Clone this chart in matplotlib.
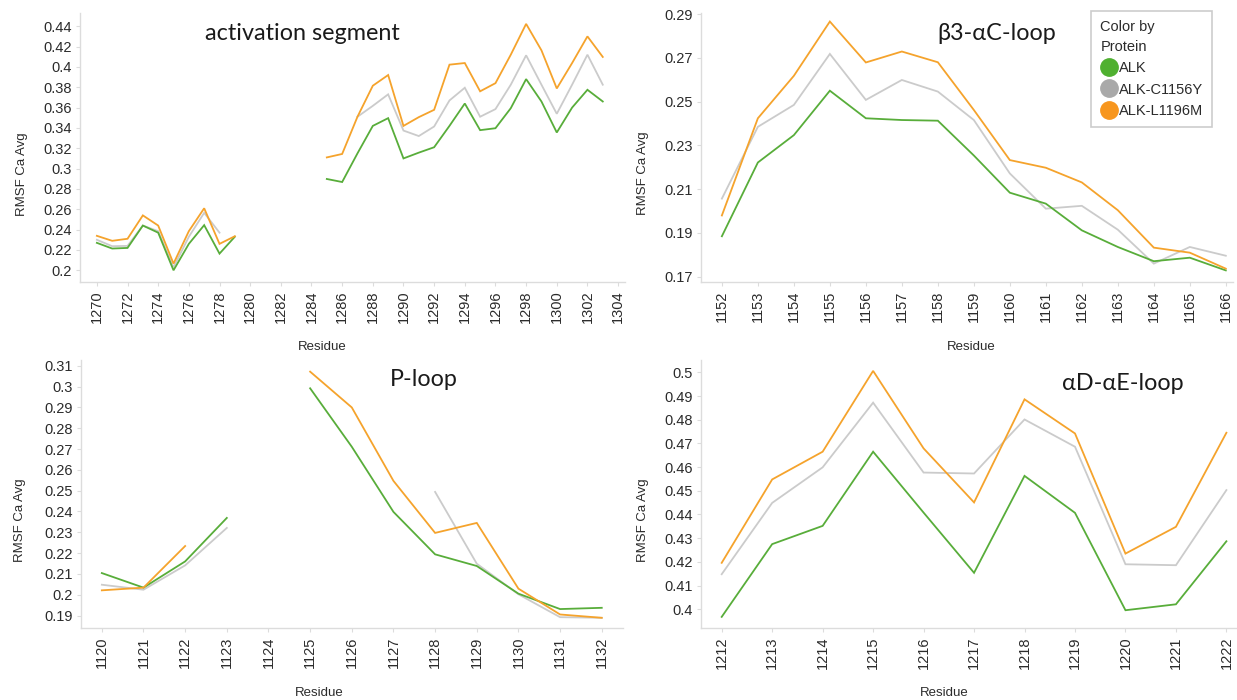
import numpy as np
import matplotlib
matplotlib.use("Agg")
import matplotlib.pyplot as plt
from matplotlib.ticker import FuncFormatter, FixedLocator
from matplotlib.lines import Line2D

plt.rcParams['font.family'] = ['Liberation Sans', 'DejaVu Sans']

W, H = 1237, 700

# ---------------- data ----------------
proteins = ["ALK", "ALK-C1156Y", "ALK-L1196M"]
colors = {"ALK": "#58ad3a", "ALK-C1156Y": "#cbcbcb", "ALK-L1196M": "#f5a32c"}
legend_colors = {"ALK": "#4fb030", "ALK-C1156Y": "#a9a9a9", "ALK-L1196M": "#f7961e"}

N = None
# activation segment (residues 1270..1303)
act_res = list(range(1270, 1304))
act_alk = [0.227, 0.2214, 0.222, 0.244, 0.237, 0.200, 0.226, 0.2444, 0.2164, 0.233,
           N, N, N, N, N,
           0.2898, 0.2868, 0.315, 0.342, 0.3496, 0.310, 0.3157, 0.321, 0.342, 0.364,
           0.3378, 0.3397, 0.3594, 0.388, 0.366, 0.3355, 0.360, 0.3775, 0.366]
act_c1156y = [0.230, 0.2237, 0.224, 0.244, 0.2385, 0.203, 0.233, 0.2565, 0.237, N,
              N, N, N, N, N,
              N, N, 0.351, 0.3617, 0.373, 0.3374, 0.332, 0.3414, 0.367, 0.3795,
              0.351, 0.3585, 0.3825, 0.4114, 0.3825, 0.3539, 0.3825, 0.412, 0.3825]
act_l1196m = [0.2339, 0.229, 0.231, 0.254, 0.244, 0.2066, 0.2385, 0.261, 0.226, 0.2335,
              N, N, N, N, N,
              0.311, 0.3144, 0.351, 0.3815, 0.392, 0.342, 0.3506, 0.3578, 0.4022, 0.4038,
              0.376, 0.384, 0.412, 0.4423, 0.4163, 0.3788, 0.4038, 0.430, 0.4098]
act_xticks = list(range(1270, 1305, 2))
act_yticks = [0.2, 0.22, 0.24, 0.26, 0.28, 0.3, 0.32, 0.34, 0.36, 0.38, 0.4, 0.42, 0.44]

# beta3-alphaC-loop (residues 1152..1166)
b3_res = list(range(1152, 1167))
b3_alk = [0.1885, 0.2222, 0.2347, 0.255, 0.2424, 0.2416, 0.2413, 0.2254, 0.2084,
          0.2034, 0.1912, 0.1836, 0.1771, 0.1787, 0.1729]
b3_c1156y = [0.2057, 0.2385, 0.2485, 0.2718, 0.2508, 0.2599, 0.2546, 0.2416, 0.2172,
             0.2011, 0.2024, 0.1915, 0.1760, 0.1836, 0.1796]
b3_l1196m = [0.198, 0.2424, 0.2618, 0.2866, 0.2679, 0.2729, 0.268, 0.2462, 0.2233,
             0.2198, 0.2131, 0.2004, 0.1833, 0.181, 0.1737]
b3_xticks = list(range(1152, 1167))
b3_yticks = [0.17, 0.19, 0.21, 0.23, 0.25, 0.27, 0.29]

# P-loop (residues 1120..1132)
p_res = list(range(1120, 1133))
p_alk = [0.2104, 0.2034, 0.216, 0.2369, N, 0.2992, 0.2711, 0.2398, 0.2194, 0.2138,
         0.2005, 0.1931, 0.1937]
p_c1156y = [0.2048, 0.2024, 0.2141, 0.2321, N, N, N, N, 0.2494, 0.2149, 0.2002,
            0.1892, 0.1889]
p_l1196m = [0.2021, 0.2034, 0.2234, N, N, 0.3072, 0.290, 0.2547, 0.2297, 0.2345,
            0.2029, 0.1905, 0.1889]
p_xticks = list(range(1120, 1133))
p_yticks = [0.19, 0.2, 0.21, 0.22, 0.23, 0.24, 0.25, 0.26, 0.27, 0.28, 0.29, 0.3, 0.31]

# alphaD-alphaE-loop (residues 1212..1222)
ad_res = list(range(1212, 1223))
ad_alk = [0.3968, 0.4275, 0.4352, 0.4665, 0.4408, 0.4154, 0.4563, 0.4407, 0.3996,
          0.4021, 0.4287]
ad_c1156y = [0.4148, 0.4449, 0.4599, 0.4872, 0.4577, 0.4573, 0.4801, 0.4686, 0.4190,
             0.4186, 0.4503]
ad_l1196m = [0.4196, 0.4548, 0.4665, 0.5006, 0.4679, 0.4451, 0.4886, 0.4742, 0.4235,
             0.4348, 0.4745]
ad_xticks = list(range(1212, 1223))
ad_yticks = [0.4, 0.41, 0.42, 0.43, 0.44, 0.45, 0.46, 0.47, 0.48, 0.49, 0.5]

panels = [
    dict(title="activation segment", res=act_res,
         series=[act_alk, act_c1156y, act_l1196m], xticks=act_xticks, yticks=act_yticks,
         box=(80, 13, 625, 282), xlim=(1268.9, 1304.45), ylim=(0.1885, 0.453),
         title_xy=(205, 33), ylab_xy=(22, 174), xlab_xy=(322, 347)),
    dict(title="β3-αC-loop", res=b3_res,
         series=[b3_alk, b3_c1156y, b3_l1196m], xticks=b3_xticks, yticks=b3_yticks,
         box=(701, 13, 1233, 282), xlim=(1151.42, 1166.2), ylim=(0.1676, 0.2905),
         title_xy=(937, 33), ylab_xy=(643, 173), xlab_xy=(971, 347)),
    dict(title="P-loop", res=p_res,
         series=[p_alk, p_c1156y, p_l1196m], xticks=p_xticks, yticks=p_yticks,
         box=(81, 360, 623, 628), xlim=(1119.5, 1132.51), ylim=(0.184, 0.3128),
         title_xy=(390, 380), ylab_xy=(20, 520), xlab_xy=(319, 693)),
    dict(title="αD-αE-loop", res=ad_res,
         series=[ad_alk, ad_c1156y, ad_l1196m], xticks=ad_xticks, yticks=ad_yticks,
         box=(701, 360, 1236, 628), xlim=(1211.59, 1222.19), ylim=(0.3921, 0.5052),
         title_xy=(1062, 384), ylab_xy=(643, 520), xlab_xy=(944, 693)),
]

fig = plt.figure(figsize=(W / 100, H / 100), dpi=100)
fig.patch.set_facecolor("white")

fmt = FuncFormatter(lambda v, p: "{:g}".format(round(v, 4)))
spine_col = "#dcdcdc"
text_col = "#2b2b2b"

for pn in panels:
    l, t, r, b = pn["box"]
    ax = fig.add_axes([l / W, 1 - b / H, (r - l) / W, (b - t) / H])
    x = np.array(pn["res"], dtype=float)
    order = [1, 0, 2]
    for i in order:
        y = np.array([np.nan if v is None else v for v in pn["series"][i]], dtype=float)
        ax.plot(x, y, color=colors[proteins[i]], lw=1.3, solid_joinstyle="miter")
    ax.set_xlim(*pn["xlim"])
    ax.set_ylim(*pn["ylim"])
    ax.xaxis.set_major_locator(FixedLocator(pn["xticks"]))
    ax.yaxis.set_major_locator(FixedLocator(pn["yticks"]))
    ax.xaxis.set_major_formatter(FuncFormatter(lambda v, p: "%d" % round(v)))
    ax.yaxis.set_major_formatter(fmt)
    for s in ["top", "right"]:
        ax.spines[s].set_visible(False)
    for s in ["left", "bottom"]:
        ax.spines[s].set_color(spine_col)
        ax.spines[s].set_linewidth(1.0)
    ax.tick_params(axis="both", colors=spine_col, length=3, width=0.8, labelcolor=text_col,
                   labelsize=10.5, pad=3)
    ax.tick_params(axis="x", labelrotation=90)
    tx, ty = pn["title_xy"]
    fig.text(tx / W, 1 - ty / H, pn["title"], fontsize=16.8, family=["Lato", "DejaVu Sans"],
             ha="left", va="center", color="#1a1a1a")
    yx, yy = pn["ylab_xy"]
    fig.text(yx / W, 1 - yy / H, "RMSF Ca Avg", rotation=90, fontsize=9.5,
             ha="center", va="center", color=text_col)
    xx, xy = pn["xlab_xy"]
    fig.text(xx / W, 1 - xy / H, "Residue", fontsize=9.5, ha="center", va="center",
             color=text_col)

handles = [Line2D([], [], marker="o", linestyle="none", markersize=12.5,
                  markerfacecolor=legend_colors[p], markeredgecolor=legend_colors[p], label=p)
           for p in proteins]
leg = fig.legend(handles=handles, title="Color by\nProtein", loc="upper left",
                 bbox_to_anchor=(1091 / W, 1 - 11 / H), borderaxespad=0, frameon=True,
                 fancybox=False, fontsize=10.5, title_fontsize=10.5, handletextpad=0.05,
                 handlelength=1.2, labelspacing=0.5, borderpad=0.65, alignment="left")
leg.get_frame().set_edgecolor("#c0c0c0")
leg.get_frame().set_linewidth(1.2)
for txt in leg.get_texts():
    txt.set_color(text_col)
leg.get_title().set_color(text_col)
leg.get_title().set_linespacing(1.5)

fig.savefig("out.png", dpi=100, facecolor="white")
